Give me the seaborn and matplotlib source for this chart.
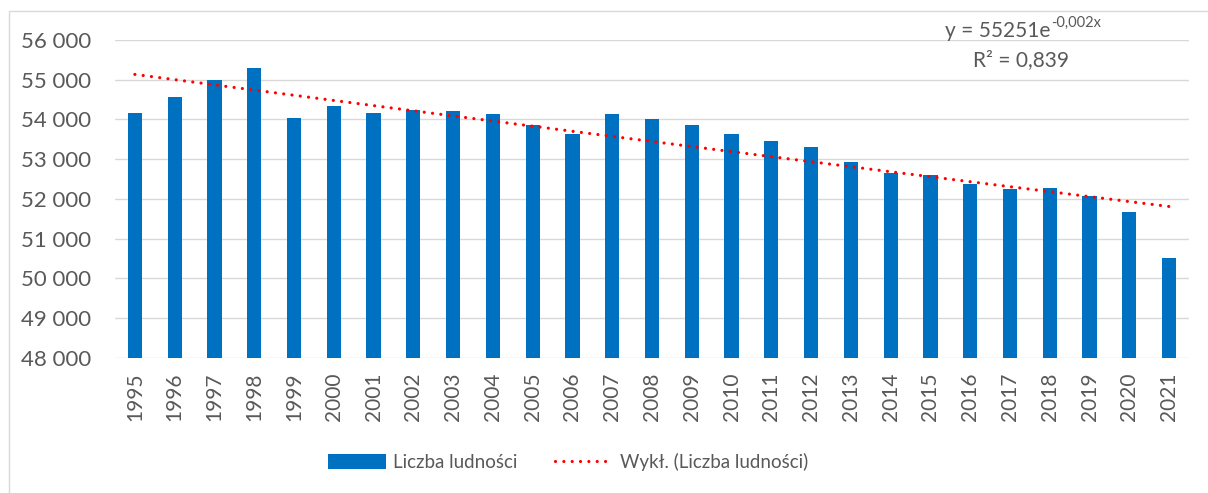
import numpy as np
import pandas as pd
import matplotlib
matplotlib.use("Agg")
import matplotlib.pyplot as plt
from matplotlib.patches import Patch, Rectangle
from matplotlib.lines import Line2D
import seaborn as sns

# Population by year
years = [1995, 1996, 1997, 1998, 1999, 2000, 2001, 2002, 2003, 2004, 2005, 2006, 2007,
         2008, 2009, 2010, 2011, 2012, 2013, 2014, 2015, 2016, 2017, 2018, 2019, 2020, 2021]
population = [54170, 54572, 55000, 55287, 54027, 54330, 54170, 54237, 54212, 54144, 53851,
              53625, 54128, 54003, 53851, 53640, 53456, 53305, 52935, 52642, 52600, 52365,
              52239, 52272, 52071, 51675, 50501]
y_ticks = [48000, 49000, 50000, 51000, 52000, 53000, 54000, 55000, 56000]

bar_label = "Liczba ludności"
trend_label = "Wykł. (Liczba ludności)"
eq_main = "y = 55251e"
eq_exp = "-0,002x"
r2_text = "R² = 0,839"

TEXT = "#595959"
GRID = "#D9D9D9"
BAR = "#0070C0"
TREND = "#FF0000"

sns.set_theme(style="white")
plt.rcParams["font.family"] = ["Lato", "DejaVu Sans"]

W, H = 1208, 493
fig = plt.figure(figsize=(W / 100, H / 100), dpi=100)
fig.patch.set_facecolor("white")

def fx(px):
    return px / W

def fy(py):
    return 1 - py / H

ax = fig.add_axes([fx(115), fy(357.7), fx(1189) - fx(115), fy(40) - fy(357.7)])

df = pd.DataFrame({"year": [str(y) for y in years], "pop": population})
sns.barplot(data=df, x="year", y="pop", color=BAR, saturation=1, width=0.36,
            linewidth=0, ax=ax, zorder=3)

# Exponential trend fitted on x = 1..n
xs = np.arange(1, len(population) + 1)
b, log_a = np.polyfit(xs, np.log(population), 1)
trend = np.exp(log_a) * np.exp(b * xs)
dots = (0, (0.01, 2.6))
ax.plot(np.arange(len(population)), trend, color=TREND, lw=2.3,
        linestyle=dots, dash_capstyle="round", zorder=4)

ax.set_ylim(y_ticks[0], y_ticks[-1])
ax.set_xlim(-0.5, len(years) - 0.5)
ax.set_yticks(y_ticks)
ax.set_yticklabels([f"{v:,}".replace(",", " ") for v in y_ticks])
ax.yaxis.grid(True, color=GRID, lw=1.0, zorder=0)
ax.set_axisbelow(True)
for s in ax.spines.values():
    s.set_visible(False)
ax.set_xlabel("")
ax.set_ylabel("")
ax.tick_params(axis="y", length=0, pad=17, labelsize=16, labelcolor=TEXT)
ax.tick_params(axis="x", length=0, pad=11, labelsize=15, labelcolor=TEXT, rotation=90)

# Chart frame
fig.patches.append(Rectangle((fx(9), -0.1), 1.2, fy(11) + 0.1, transform=fig.transFigure,
                             fill=False, edgecolor=GRID, lw=1.0))

# Trend equation
fig.text(fx(1050), fy(37), eq_main, ha="right", va="baseline", fontsize=15, color=TEXT)
fig.text(fx(1051), fy(27), eq_exp, ha="left", va="baseline", fontsize=10.5, color=TEXT)
fig.text(fx(1021), fy(60), r2_text, ha="center", va="center", fontsize=15, color=TEXT)

handles = [Patch(facecolor=BAR, edgecolor="none", label=bar_label),
           Line2D([0], [0], color=TREND, lw=2.3, linestyle=dots,
                  dash_capstyle="round", label=trend_label)]
fig.legend(handles=handles, loc="center", bbox_to_anchor=(fx(568), fy(462)), ncol=2,
           frameon=False, fontsize=13.5, labelcolor=TEXT, handlelength=3.1,
           handleheight=0.8, handletextpad=0.37, columnspacing=2.0)

fig.savefig("out.png", dpi=100)
